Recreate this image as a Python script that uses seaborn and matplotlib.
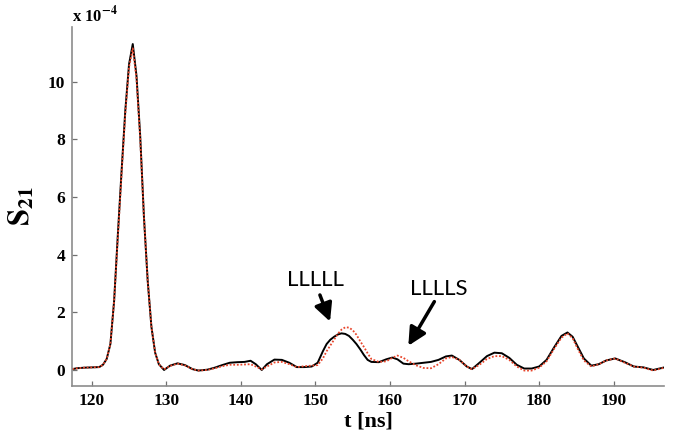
import numpy as np
import pandas as pd
import matplotlib
matplotlib.use("Agg")
import matplotlib.pyplot as plt
import seaborn as sns

# time axis [ns]
t = [117.4, 118, 119, 120, 121, 121.5, 122, 122.5, 123, 123.5, 124, 124.5, 125, 125.5,
     126, 126.5, 127, 127.5, 128, 128.5, 129, 129.7, 130.5, 131.5, 132.5, 133.5, 134.3,
     135.5, 136.5, 137.5, 138.5, 139.5, 140.5, 141.3, 142, 142.8, 143.5, 144.5, 145.5,
     146.5, 147.5, 148.5, 149.5, 150.3, 151, 151.5, 152, 152.5, 153, 153.5, 154, 154.5,
     155, 155.5, 156, 156.5, 157, 157.5, 158.5, 159.5, 160.3, 161, 161.8, 162.5, 163.5,
     164.5, 165.5, 166.5, 167.5, 168.3, 169.3, 170.3, 171, 172, 173, 174, 175, 176, 177,
     178, 179, 180, 181, 182, 183, 183.8, 184.5, 185.2, 186, 187, 188, 189, 190.2, 191.5,
     192.7, 194, 195.3, 196.8]

# S21 (x 1e-4), solid black curve
s21_solid = [0.03, 0.06, 0.08, 0.09, 0.10, 0.18, 0.38, 0.90, 2.4, 4.7, 6.9, 9.0, 10.6, 11.3,
             10.2, 8.1, 5.3, 3.1, 1.5, 0.6, 0.2, 0.0, 0.15, 0.23, 0.17, 0.03, -0.02,
             0.01, 0.08, 0.17, 0.25, 0.27, 0.28, 0.32, 0.20, 0.0, 0.20, 0.36, 0.35,
             0.25, 0.10, 0.10, 0.12, 0.25, 0.65, 0.90, 1.05, 1.15, 1.23, 1.27, 1.25, 1.18,
             1.05, 0.90, 0.72, 0.52, 0.35, 0.28, 0.27, 0.37, 0.43, 0.37, 0.22, 0.20, 0.22,
             0.25, 0.28, 0.35, 0.47, 0.50, 0.35, 0.12, 0.03, 0.25, 0.48, 0.60, 0.58, 0.42, 0.18,
             0.05, 0.05, 0.12, 0.35, 0.78, 1.18, 1.30, 1.15, 0.80, 0.40, 0.15, 0.20, 0.33, 0.40, 0.27,
             0.12, 0.09, 0.0, 0.09]

# S21 (x 1e-4), red dotted curve
s21_dotted = [0.03, 0.06, 0.08, 0.09, 0.10, 0.18, 0.38, 0.90, 2.4, 4.6, 6.8, 8.9, 10.5, 11.15,
              10.1, 8.0, 5.3, 3.1, 1.5, 0.6, 0.2, 0.02, 0.14, 0.22, 0.16, 0.03, -0.02,
              0.0, 0.06, 0.13, 0.18, 0.18, 0.19, 0.20, 0.12, 0.02, 0.12, 0.26, 0.28,
              0.20, 0.10, 0.13, 0.15, 0.17, 0.40, 0.65, 0.85, 1.05, 1.25, 1.40, 1.48, 1.47,
              1.38, 1.22, 1.00, 0.80, 0.58, 0.38, 0.28, 0.30, 0.42, 0.50, 0.42, 0.30, 0.16,
              0.07, 0.06, 0.20, 0.40, 0.45, 0.35, 0.12, 0.03, 0.18, 0.38, 0.48, 0.48, 0.35, 0.12,
              -0.02, -0.02, 0.08, 0.30, 0.73, 1.12, 1.27, 1.10, 0.72, 0.33, 0.12, 0.20, 0.33, 0.40, 0.25,
              0.12, 0.08, -0.02, 0.08]

x_ticks = [120, 130, 140, 150, 160, 170, 180, 190]
y_ticks = [0, 2, 4, 6, 8, 10]

df = pd.DataFrame({"t": t, "solid": s21_solid, "dotted": s21_dotted})

sns.set_theme(style="white")
plt.rcParams["font.family"] = ["Liberation Serif", "DejaVu Serif"]
plt.rcParams["font.weight"] = "bold"
plt.rcParams["mathtext.fontset"] = "stix"

fig = plt.figure(figsize=(6.75, 4.34), dpi=100)
ax = fig.add_axes([72/675, 1-385.7/434, (664-72)/675, (385.7-26.7)/434])

sns.lineplot(data=df, x="t", y="solid", ax=ax, color="black", linewidth=1.4,
             sort=True, estimator=None)
sns.lineplot(data=df, x="t", y="dotted", ax=ax, color="#e8462c", linewidth=1.3,
             linestyle=(0, (1, 1)), sort=True, estimator=None)

ax.set_xlim(117.35, 196.75)
ax.set_ylim(-0.545, 11.9)
ax.set_xticks(x_ticks)
ax.set_yticks(y_ticks)
ax.set_xticklabels([str(v) for v in x_ticks], fontsize=12.5, fontweight="bold", color="black")
ax.set_yticklabels([str(v) for v in y_ticks], fontsize=12.5, fontweight="bold", color="black")

for side in ["top", "right"]:
    ax.spines[side].set_visible(False)
for side in ["left", "bottom"]:
    ax.spines[side].set_color("#8c8c8c")
    ax.spines[side].set_linewidth(1.2)
ax.tick_params(axis="both", direction="in", length=3.6, width=0.9, color="#707070",
               labelcolor="black", pad=5, bottom=True, left=True, top=False, right=False)

ax.set_xlabel("t [ns]", fontsize=16, fontweight="bold", labelpad=2, color="black")
ax.set_ylabel(r"$\mathbf{S_{21}}$", fontsize=22, labelpad=8, color="black")

fig.text(72/675, 1-22/434, r"x 10$^{\mathbf{-4}}$", fontsize=12, fontweight="bold",
         ha="left", va="baseline", color="black")

ann_font = dict(family=["Lato", "DejaVu Sans"], fontsize=16, fontweight="normal", color="black")
arrow = dict(arrowstyle="-|>", color="black", lw=2.5, mutation_scale=27,
             shrinkA=0, shrinkB=0)
ax.text(150.0, 3.12, "LLLLL", ha="center", va="center", **ann_font)
ax.annotate("", xy=(151.96, 1.68), xytext=(150.6, 2.6), arrowprops=arrow)
ax.text(166.5, 2.8, "LLLLS", ha="center", va="center", **ann_font)
ax.annotate("", xy=(162.46, 0.84), xytext=(165.95, 2.37), arrowprops=arrow)

ax.set_facecolor("white")
fig.savefig("out.png", dpi=100, facecolor="white")
